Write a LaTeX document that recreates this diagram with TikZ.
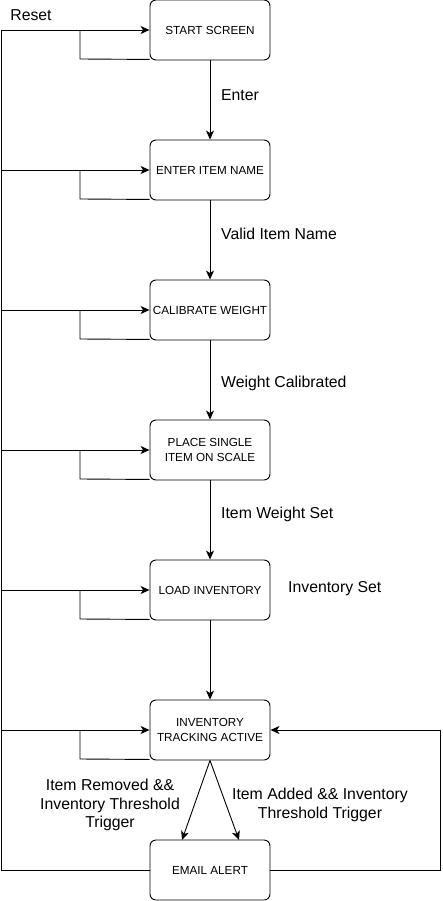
\documentclass[tikz,border=0pt]{standalone}
\usepackage{fontspec}
\setmainfont{Liberation Sans}
\usetikzlibrary{arrows.meta}
\begin{document}
\begin{tikzpicture}[x=1pt,y=-1pt,
  state/.style={draw,rounded corners=6pt,minimum width=120pt,minimum height=60pt,inner sep=1pt,align=center,font=\fontsize{11.7}{14.5}\selectfont,line width=0.9pt},
  lbl/.style={font=\fontsize{15.8}{18.5}\selectfont,align=center,inner sep=0pt},
  arr/.style={line width=0.9pt,-{Stealth[length=9pt,width=8pt,inset=2.5pt]}},
  ln/.style={line width=0.9pt}]
\useasboundingbox (0,0) rectangle (442,901);
\node[state] (start) at (210,30) {START SCREEN};
\node[state] (enter) at (210,170) {ENTER ITEM NAME};
\node[state] (calib) at (210,310) {CALIBRATE WEIGHT};
\node[state] (place) at (210,450) {PLACE SINGLE\\ITEM ON SCALE};
\node[state] (load) at (210,590) {LOAD INVENTORY};
\node[state] (track) at (210,730) {INVENTORY\\TRACKING ACTIVE};
\node[state] (email) at (210,870) {EMAIL ALERT};
% vertical transitions
\draw[arr] (start) -- (enter);
\draw[arr] (enter) -- (calib);
\draw[arr] (calib) -- (place);
\draw[arr] (place) -- (load);
\draw[arr] (load) -- (track);
\coordinate (eL) at (182,840);
\coordinate (eR) at (239,840);
\draw[arr] (track.south) -- (eL);
\draw[arr] (track.south) -- (eR);
% reset line
\coordinate (lb) at (1,870);
\coordinate (lt) at (1,30);
\draw[arr] (email.west) -- (lb) -- (lt) -- (start.west);
\foreach \n/\y in {enter/170,calib/310,place/450,load/590,track/730}{
  \draw[arr] (1,\y) -- (\n.west);
}
% self loops
\foreach \n/\y in {start/30,enter/170,calib/310,place/450,load/590,track/730}{
  \draw[ln] ([yshift=1pt]\n.south west) -- (80,\y+29) -- (80,\y);
}
% right loop
\coordinate (rb) at (440,870);
\coordinate (rt) at (440,730);
\draw[arr] (email.east) -- (rb) -- (rt) -- (track.east);
% labels
\node[lbl] (reset) at (31,15) {Reset};
\node[lbl] (lenter) at (240,95) {Enter};
\node[lbl,anchor=west] (lvalid) at (221,234) {Valid Item Name};
\node[lbl,anchor=west] (lcal) at (221,383) {Weight Calibrated};
\node[lbl,anchor=west] (lset) at (221,514) {Item Weight Set};
\node[lbl,anchor=west] (linv) at (288,589) {Inventory Set};
\node[lbl] (lrem) at (110,805) {Item Removed \&\&\\Inventory Threshold\\Trigger};
\node[lbl] (ladd) at (320,805) {Item Added \&\& Inventory\\Threshold Trigger};
\end{tikzpicture}
\end{document}
